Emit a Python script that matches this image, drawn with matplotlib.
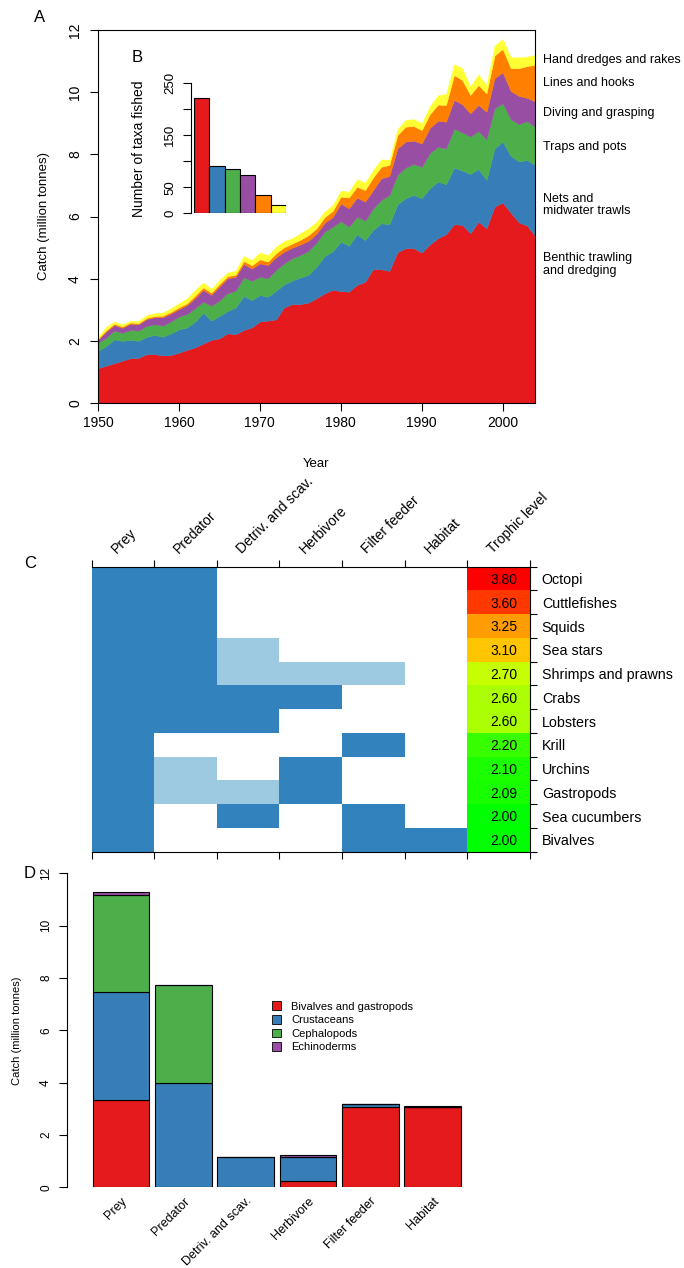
import numpy as np
import matplotlib
matplotlib.use("Agg")
import matplotlib.pyplot as plt
from matplotlib.colors import ListedColormap, LinearSegmentedColormap
from matplotlib.patches import Patch
from matplotlib.transforms import blended_transform_factory

plt.rcParams['font.family'] = ['Liberation Sans', 'DejaVu Sans']

# ---- panel A: catch by gear, cumulative tops of each band (million tonnes)
years = np.arange(1950, 2005)
top_benthic = [1.12, 1.20, 1.28, 1.36, 1.44, 1.45, 1.57, 1.57, 1.53, 1.54,
               1.62, 1.71, 1.79, 1.91, 2.03, 2.08, 2.24, 2.21, 2.35, 2.43,
               2.62, 2.65, 2.69, 3.08, 3.18, 3.18, 3.23, 3.37, 3.53, 3.64,
               3.60, 3.58, 3.80, 3.90, 4.31, 4.30, 4.25, 4.85, 4.98, 4.98,
               4.84, 5.10, 5.30, 5.43, 5.75, 5.73, 5.46, 5.83, 5.62, 6.32,
               6.45, 6.12, 5.81, 5.71, 5.38]
top_nets = [1.68, 1.83, 2.05, 2.00, 2.03, 2.00, 2.13, 2.19, 2.13, 2.24,
            2.37, 2.43, 2.62, 2.91, 2.65, 2.80, 2.96, 3.07, 3.44, 3.31,
            3.47, 3.42, 3.61, 3.82, 3.94, 4.04, 4.12, 4.39, 4.73, 4.88,
            5.19, 5.06, 5.43, 5.24, 5.57, 5.78, 5.75, 6.39, 6.59, 6.69,
            6.59, 6.91, 7.12, 7.04, 7.57, 7.48, 7.37, 7.53, 7.18, 8.19,
            8.41, 7.95, 7.77, 7.82, 7.66]
top_traps = [1.94, 2.10, 2.33, 2.26, 2.35, 2.33, 2.48, 2.53, 2.49, 2.62,
             2.78, 2.86, 3.05, 3.26, 3.13, 3.30, 3.53, 3.61, 4.04, 3.93,
             4.06, 4.01, 4.28, 4.49, 4.66, 4.76, 4.89, 5.16, 5.51, 5.67,
             5.85, 5.67, 5.99, 5.86, 6.26, 6.53, 6.69, 7.34, 7.57, 7.69,
             7.60, 8.04, 8.24, 8.19, 8.82, 8.71, 8.57, 8.75, 8.48, 9.48,
             9.64, 9.13, 8.97, 9.07, 8.89]
top_diving = [2.04, 2.30, 2.51, 2.42, 2.55, 2.53, 2.70, 2.76, 2.76, 2.88,
              3.02, 3.15, 3.38, 3.64, 3.48, 3.75, 4.01, 4.06, 4.47, 4.33,
              4.49, 4.44, 4.69, 4.87, 5.00, 5.10, 5.22, 5.45, 5.80, 5.98,
              6.42, 6.26, 6.61, 6.48, 6.85, 7.23, 7.30, 8.19, 8.41, 8.44,
              8.35, 8.85, 9.08, 9.05, 9.75, 9.61, 9.32, 9.59, 9.37, 10.45,
              10.64, 10.04, 9.88, 9.82, 9.70]
top_lines = [2.07, 2.34, 2.55, 2.46, 2.59, 2.57, 2.74, 2.80, 2.81, 2.93,
             3.08, 3.21, 3.46, 3.72, 3.55, 3.83, 4.08, 4.13, 4.57, 4.43,
             4.62, 4.55, 4.82, 5.01, 5.13, 5.25, 5.40, 5.62, 5.98, 6.18,
             6.64, 6.61, 6.96, 6.85, 7.26, 7.60, 7.66, 8.62, 8.89, 8.91,
             8.78, 9.29, 9.60, 9.59, 10.55, 10.39, 9.91, 10.23, 9.96, 11.18,
             11.39, 10.77, 10.77, 10.84, 10.88]
top_hand = [2.13, 2.45, 2.62, 2.53, 2.65, 2.64, 2.83, 2.89, 2.91, 3.05,
            3.21, 3.37, 3.64, 3.88, 3.67, 3.96, 4.20, 4.26, 4.73, 4.60,
            4.84, 4.76, 5.03, 5.21, 5.30, 5.46, 5.62, 5.83, 6.16, 6.37,
            6.83, 6.80, 7.20, 7.09, 7.50, 7.84, 7.82, 8.81, 9.11, 9.13,
            9.00, 9.55, 9.90, 9.94, 10.90, 10.77, 10.18, 10.57, 10.23, 11.50,
            11.71, 11.12, 11.12, 11.14, 11.20]
gear_names = ["Benthic trawling\nand dredging", "Nets and\nmidwater trawls",
              "Traps and pots", "Diving and grasping", "Lines and hooks",
              "Hand dredges and rakes"]
gear_label_y = [4.47, 6.37, 8.24, 9.33, 10.30, 11.04]
gear_colors = ["#E41A1C", "#377EB8", "#4DAF4A", "#984EA3", "#FF7F00", "#FFFF33"]

# ---- panel B: number of taxa per gear
taxa_counts = [221, 90, 85, 74, 35, 15]

# ---- panel C: ecological roles
roles = ["Prey", "Predator", "Detriv. and scav.", "Herbivore", "Filter feeder", "Habitat"]
taxa = ["Octopi", "Cuttlefishes", "Squids", "Sea stars", "Shrimps and prawns", "Crabs",
        "Lobsters", "Krill", "Urchins", "Gastropods", "Sea cucumbers", "Bivalves"]
# 0 = no role, 1 = weak role, 2 = strong role
role_matrix = [[2, 2, 0, 0, 0, 0],
               [2, 2, 0, 0, 0, 0],
               [2, 2, 0, 0, 0, 0],
               [2, 2, 1, 0, 0, 0],
               [2, 2, 1, 1, 1, 0],
               [2, 2, 2, 2, 0, 0],
               [2, 2, 2, 0, 0, 0],
               [2, 0, 0, 0, 2, 0],
               [2, 1, 0, 2, 0, 0],
               [2, 1, 1, 2, 0, 0],
               [2, 0, 2, 0, 2, 0],
               [2, 0, 0, 0, 2, 2]]
trophic = [3.80, 3.60, 3.25, 3.10, 2.70, 2.60, 2.60, 2.20, 2.10, 2.09, 2.00, 2.00]

# ---- panel D: catch by role and group (million tonnes)
groups = ["Bivalves and gastropods", "Crustaceans", "Cephalopods", "Echinoderms"]
group_colors = ["#E41A1C", "#377EB8", "#4DAF4A", "#984EA3"]
bivalves_gastropods = [3.33, 0.00, 0.00, 0.25, 3.06, 3.07]
crustaceans = [4.12, 4.00, 1.15, 0.90, 0.12, 0.00]
cephalopods = [3.71, 3.73, 0.00, 0.00, 0.00, 0.00]
echinoderms = [0.14, 0.02, 0.02, 0.10, 0.02, 0.02]

W, H = 684, 1268
fig = plt.figure(figsize=(W / 100, H / 100), dpi=100)


def box(x0, y0, x1, y1):
    return [x0 / W, 1 - y1 / H, (x1 - x0) / W, (y1 - y0) / H]


# ================= A =================
ax = fig.add_axes(box(98, 30, 535, 403))
lower = np.zeros(len(years))
for top, c in zip([top_benthic, top_nets, top_traps, top_diving, top_lines, top_hand], gear_colors):
    ax.fill_between(years, lower, top, color=c, lw=0.3)
    lower = np.asarray(top)
ax.set_xlim(1950, 2004)
ax.set_ylim(0, 12)
ax.set_xticks([1950, 1960, 1970, 1980, 1990, 2000])
ax.set_yticks(range(0, 13, 2))
ax.tick_params(direction="out", length=5.5, width=0.8, labelsize=10, pad=4)
ax.tick_params(axis="y", pad=6)
plt.setp(ax.get_yticklabels(), rotation=90, va="center")
for s in ax.spines.values():
    s.set_linewidth(0.8)
ax.set_xlabel("Year", fontsize=9.5, labelpad=20)
ax.set_ylabel("Catch (million tonnes)", fontsize=9.5, labelpad=13)
tr = blended_transform_factory(ax.transAxes, ax.transData)
for name, yy in zip(gear_names, gear_label_y):
    ax.text(1.018, yy, name, transform=tr, ha="left", va="center", fontsize=9, linespacing=1.1)
fig.text(40 / W, 1 - 18 / H, "A", fontsize=12, ha="center", va="center")

# ================= B (inset) =================
axb = fig.add_axes(box(191, 83.3, 286, 213.3))
axb.patch.set_alpha(0)
axb.bar(range(6), taxa_counts, width=1, align="edge", color=gear_colors,
        edgecolor="black", linewidth=0.8)
axb.set_xlim(-0.2, 6.0)
axb.set_ylim(0, 250)
axb.set_yticks([0, 50, 100, 150, 200, 250])
axb.set_yticklabels(["0", "50", "", "150", "", "250"], rotation=90, va="center")
axb.set_xticks([])
for s in ["top", "right", "bottom"]:
    axb.spines[s].set_visible(False)
axb.spines["left"].set_linewidth(0.8)
axb.tick_params(direction="out", length=5.5, width=0.8, labelsize=9.5, pad=5)
axb.set_ylabel("Number of taxa fished", fontsize=10, labelpad=13)
fig.text(137 / W, 1 - 58 / H, "B", fontsize=12, ha="center", va="center")

# ================= C =================
axc = fig.add_axes(box(91.5, 566.7, 530, 851.7))
role_cmap = ListedColormap(["white", "#9ECAE1", "#3182BD"])
axc.pcolormesh(np.arange(7), np.arange(13), np.array(role_matrix), cmap=role_cmap, vmin=0, vmax=2)
tl_cmap = LinearSegmentedColormap.from_list("tl", ["#00FF00", "#FFFF00", "#FF0000"])
axc.pcolormesh([6, 7], np.arange(13), np.array(trophic)[:, None], cmap=tl_cmap, vmin=2.0, vmax=3.8)
for i, v in enumerate(trophic):
    axc.text(6.58, i + 0.55, f"{v:.2f}", ha="center", va="center", fontsize=10)
axc.set_xlim(0, 7)
axc.set_ylim(12, 0)
axc.set_xticks(range(8))
axc.set_xticklabels([])
axc.xaxis.set_ticks_position("both")
axc.yaxis.tick_right()
axc.set_yticks(range(13))
axc.set_yticklabels([])
axc.set_yticks(np.arange(12) + 0.5, minor=True)
axc.set_yticklabels(taxa, minor=True, fontsize=10.3)
axc.tick_params(which="major", direction="out", length=5, width=0.8)
axc.tick_params(which="minor", length=0, pad=8.5)
axc.spines["left"].set_visible(False)
for s in ["top", "bottom", "right"]:
    axc.spines[s].set_linewidth(0.8)
for j, lab in enumerate(roles + ["Trophic level"]):
    axc.text(j + 0.4, -0.55, lab, rotation=45, rotation_mode="anchor",
             ha="left", va="baseline", fontsize=10)
fig.text(30 / W, 1 - 563 / H, "C", fontsize=12, ha="center", va="center")

# ================= D =================
axd = fig.add_axes(box(66.7, 873.3, 470, 1187.3))
xpos = np.arange(len(roles))
bottom = np.zeros(len(roles))
for vals, c, g in zip([bivalves_gastropods, crustaceans, cephalopods, echinoderms], group_colors, groups):
    axd.bar(xpos, vals, width=0.91, bottom=bottom, color=c, edgecolor="black", linewidth=0.8, label=g)
    bottom = bottom + np.asarray(vals)
axd.set_xlim(-0.873, 5.6)
axd.set_ylim(0, 12)
axd.set_yticks(range(0, 13, 2))
axd.set_yticklabels([str(v) for v in range(0, 13, 2)], rotation=90, va="center")
axd.set_xticks([])
for s in ["top", "right", "bottom"]:
    axd.spines[s].set_visible(False)
axd.spines["left"].set_linewidth(0.8)
axd.tick_params(direction="out", length=5.5, width=0.8, labelsize=8.5, pad=5)
axd.set_ylabel("Catch (million tonnes)", fontsize=8, labelpad=13)
for i, lab in enumerate(roles):
    axd.text(i, -0.3, lab, rotation=45, rotation_mode="anchor", ha="right", va="top", fontsize=9)
handles = [Patch(facecolor=c, edgecolor="black", linewidth=0.6) for c in group_colors]
axd.legend(handles, groups, loc="upper left", bbox_to_anchor=(0.495, 0.61), frameon=False,
           fontsize=8, handlelength=0.85, handleheight=0.85, handletextpad=0.9,
           labelspacing=0.3, borderpad=0)
fig.text(30 / W, 1 - 873 / H, "D", fontsize=12, ha="center", va="center")

fig.savefig("out.png", dpi=100)
